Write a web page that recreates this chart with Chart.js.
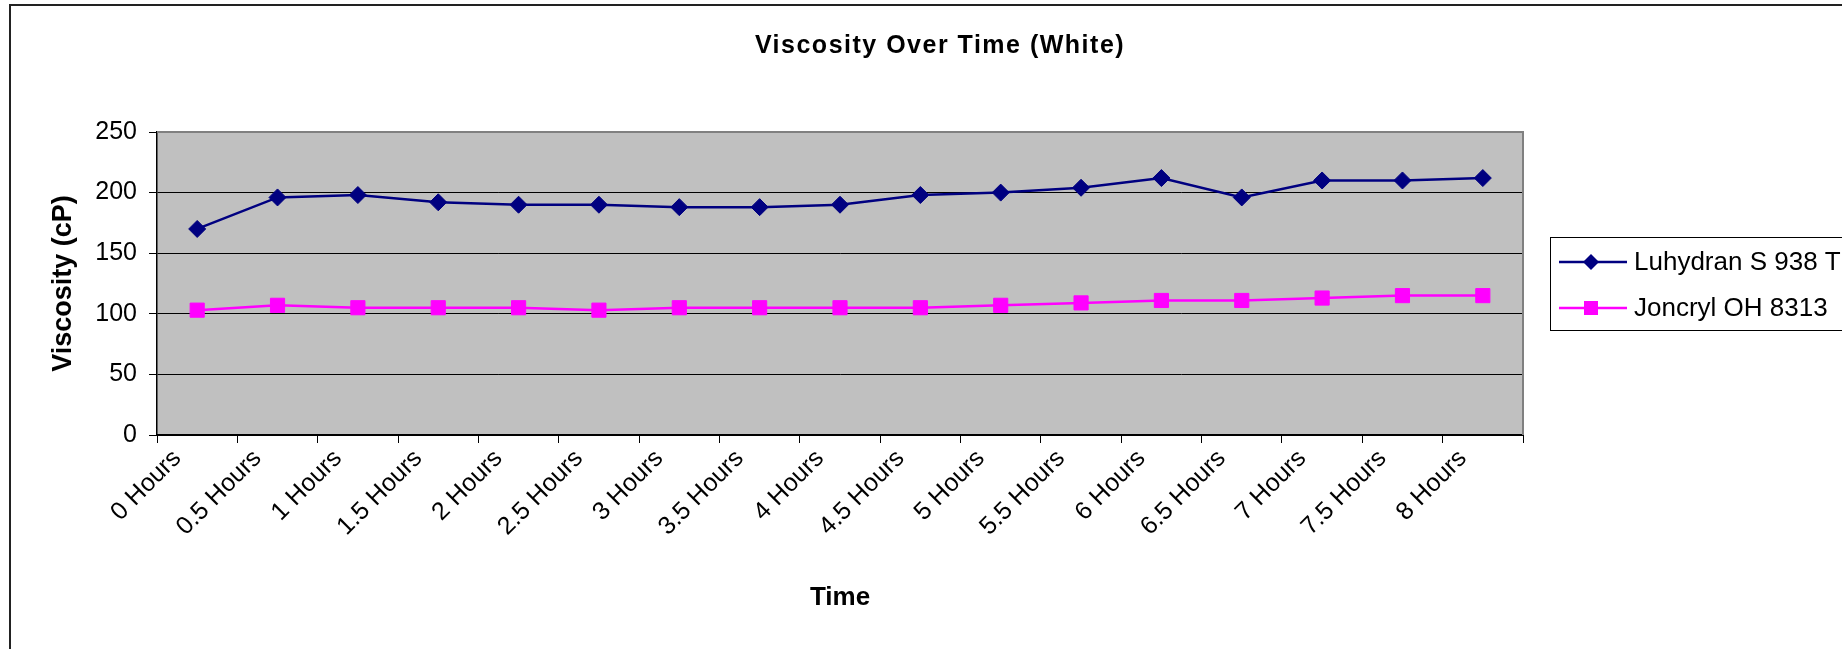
<!DOCTYPE html>
<html>
<head>
<meta charset="utf-8">
<title>Viscosity Over Time (White)</title>
<script src="https://cdn.jsdelivr.net/npm/chart.js@4/dist/chart.umd.min.js"></script>
<style>
  html, body { margin: 0; padding: 0; background: #ffffff; }
  #wrap { position: relative; width: 1842px; height: 649px; overflow: hidden; }
  canvas { display: block; }
</style>
</head>
<body>
<div id="wrap"><canvas id="chart" width="1842" height="649"></canvas></div>
<script>
// Sampling times
const categories = ['0 Hours', '0.5 Hours', '1 Hours', '1.5 Hours', '2 Hours', '2.5 Hours',
  '3 Hours', '3.5 Hours', '4 Hours', '4.5 Hours', '5 Hours', '5.5 Hours', '6 Hours',
  '6.5 Hours', '7 Hours', '7.5 Hours', '8 Hours'];

// Viscosity readings (cP)
const luhydranS938T = [170, 196, 198, 192, 190, 190, 188, 188, 190, 198, 200, 204, 212, 196, 210, 210, 212];
const joncrylOH8313 = [103, 107, 105, 105, 105, 103, 105, 105, 105, 105, 107, 109, 111, 111, 113, 115, 115];

const seriesNames = ['Luhydran S 938 T', 'Joncryl OH 8313'];

// Value axis range
const yMin = 0;
const yMax = 250;
const yStep = 50;

const chartTitle = 'Viscosity Over Time (White)';
const xTitle = 'Time';
const yTitle = 'Viscosity (cP)';

const FONT = "'Liberation Sans', Arial, Helvetica, sans-serif";

// Frame, plot fill, chart title and legend box
const decorations = {
  id: 'decorations',
  beforeDraw(chart) {
    const { ctx, chartArea: a } = chart;
    ctx.save();
    ctx.fillStyle = '#ffffff';
    ctx.fillRect(0, 0, chart.width, chart.height);
    // outer frame (continues past the right and bottom edges)
    ctx.strokeStyle = '#222222';
    ctx.lineWidth = 2;
    ctx.beginPath();
    ctx.moveTo(10, chart.height + 5);
    ctx.lineTo(10, 5);
    ctx.lineTo(chart.width + 5, 5);
    ctx.stroke();
    // plot background
    ctx.fillStyle = '#c0c0c0';
    ctx.fillRect(a.left, a.top, a.right - a.left, a.bottom - a.top);
    ctx.restore();
  },
  beforeDatasetsDraw(chart) {
    const { ctx, chartArea: a } = chart;
    ctx.save();
    ctx.strokeStyle = '#808080';
    ctx.lineWidth = 2;
    ctx.beginPath();
    ctx.moveTo(a.left, a.top);
    ctx.lineTo(a.right, a.top);
    ctx.lineTo(a.right, a.bottom);
    ctx.stroke();
    ctx.restore();
  },
  afterDraw(chart) {
    const { ctx } = chart;
    ctx.save();
    // chart title
    ctx.fillStyle = '#000000';
    ctx.font = 'bold 25px ' + FONT;
    if ('letterSpacing' in ctx) ctx.letterSpacing = '1.5px';
    ctx.textAlign = 'center';
    ctx.textBaseline = 'middle';
    ctx.fillText(chartTitle, 940, 46);
    if ('letterSpacing' in ctx) ctx.letterSpacing = '0px';

    // legend
    const boxLeft = 1550, boxTop = 237, boxBottom = 330;
    ctx.strokeStyle = '#000000';
    ctx.lineWidth = 1;
    ctx.strokeRect(boxLeft + 0.5, boxTop + 0.5, chart.width + 20 - boxLeft, boxBottom - boxTop);
    const rows = [262, 308];
    chart.data.datasets.forEach((ds, i) => {
      const y = rows[i];
      ctx.strokeStyle = ds.borderColor;
      ctx.lineWidth = ds.borderWidth;
      ctx.beginPath();
      ctx.moveTo(1559, y);
      ctx.lineTo(1627, y);
      ctx.stroke();
      const cx = 1591;
      ctx.fillStyle = ds.pointBackgroundColor;
      ctx.beginPath();
      if (ds.pointStyle === 'rectRot') {
        const r = 8;
        ctx.moveTo(cx - r, y);
        ctx.lineTo(cx, y - r);
        ctx.lineTo(cx + r, y);
        ctx.lineTo(cx, y + r);
        ctx.closePath();
      } else {
        ctx.rect(cx - 7, y - 7, 14, 14);
      }
      ctx.fill();
      ctx.fillStyle = '#000000';
      ctx.font = '26px ' + FONT;
      ctx.textAlign = 'left';
      ctx.textBaseline = 'middle';
      ctx.fillText(ds.label, 1634, y + 1);
    });
    ctx.restore();
  }
};

new Chart(document.getElementById('chart'), {
  type: 'line',
  data: {
    labels: categories,
    datasets: [
      {
        label: seriesNames[0],
        data: luhydranS938T,
        borderColor: '#000080',
        backgroundColor: '#000080',
        borderWidth: 2.5,
        pointStyle: 'rectRot',
        pointRadius: 8.5,
        pointHoverRadius: 8.5,
        pointBackgroundColor: '#000080',
        pointBorderColor: '#000080',
        pointBorderWidth: 1,
        tension: 0
      },
      {
        label: seriesNames[1],
        data: joncrylOH8313,
        borderColor: '#ff00ff',
        backgroundColor: '#ff00ff',
        borderWidth: 2.5,
        pointStyle: 'rect',
        pointRadius: 10,
        pointHoverRadius: 10,
        pointBackgroundColor: '#ff00ff',
        pointBorderColor: '#ff00ff',
        pointBorderWidth: 1,
        tension: 0
      }
    ]
  },
  options: {
    responsive: false,
    animation: false,
    events: [],
    layout: { padding: { left: 47, top: 132, right: 319, bottom: 36 } },
    plugins: {
      legend: { display: false },
      title: { display: false },
      tooltip: { enabled: false }
    },
    scales: {
      x: {
        type: 'category',
        offset: true,
        grid: {
          offset: true,
          drawOnChartArea: false,
          drawTicks: true,
          tickLength: 8,
          color: '#000000',
          lineWidth: 1
        },
        border: { display: true, color: '#000000', width: 2 },
        ticks: {
          autoSkip: false,
          minRotation: 45,
          maxRotation: 45,
          padding: 1,
          labelOffset: -20,
          color: '#000000',
          font: { family: FONT, size: 25 }
        },
        title: {
          display: true,
          text: xTitle,
          color: '#000000',
          padding: 0,
          font: { family: FONT, size: 26, weight: 'bold' }
        },
        afterFit(scale) { scale.height = 178; }
      },
      y: {
        min: yMin,
        max: yMax,
        ticks: {
          stepSize: yStep,
          padding: 12,
          color: '#000000',
          font: { family: FONT, size: 25 }
        },
        grid: {
          color: (c) => (c.tick && c.tick.value === yMax ? 'rgba(0,0,0,0)' : '#000000'),
          tickColor: '#000000',
          tickLength: 8,
          lineWidth: 1
        },
        border: { display: true, color: '#000000', width: 1.5 },
        title: {
          display: true,
          text: yTitle,
          color: '#000000',
          padding: 0,
          font: { family: FONT, size: 27, weight: 'bold' }
        },
        afterFit(scale) { scale.width = 110; }
      }
    }
  },
  plugins: [decorations]
});
</script>
</body>
</html>
